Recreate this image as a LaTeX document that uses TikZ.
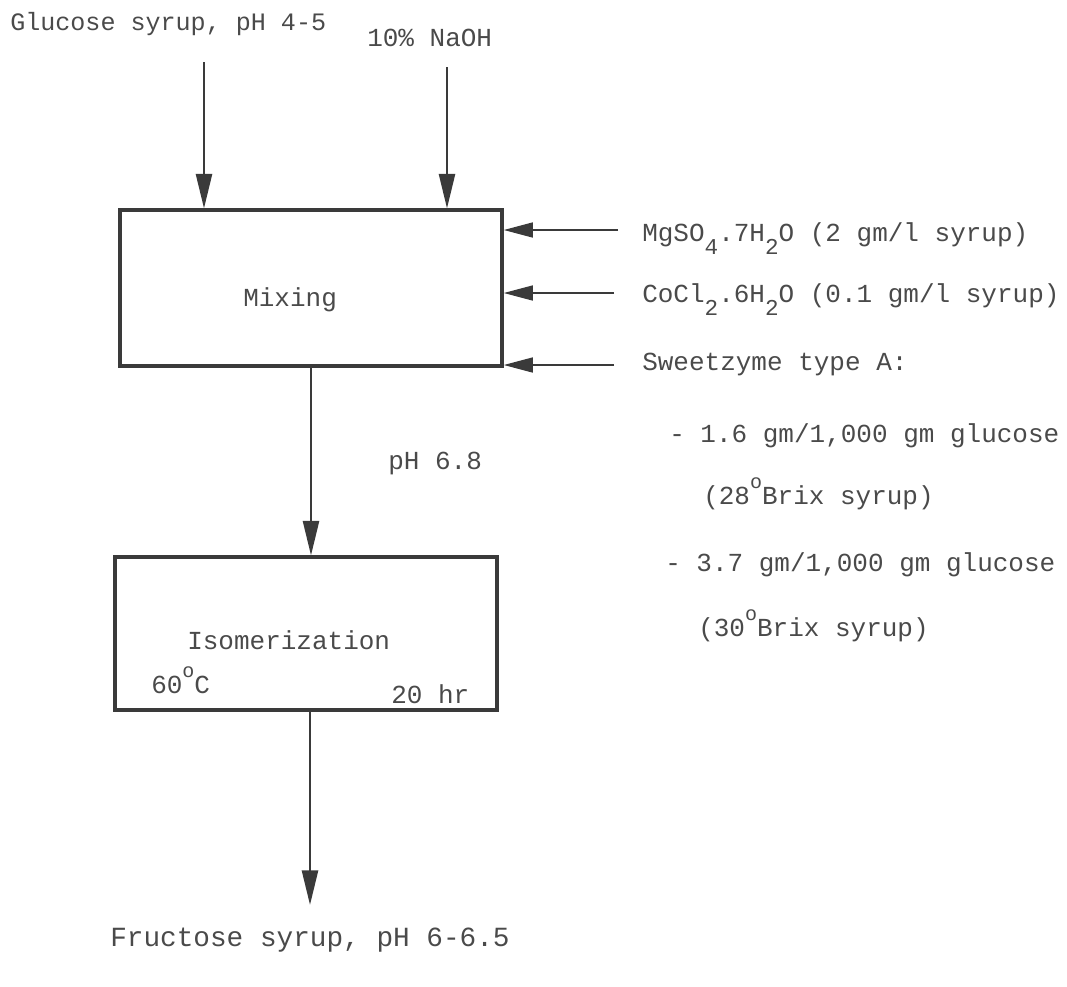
\documentclass[tikz,border=0pt]{standalone}
\usepackage{fontspec}
\setmainfont{Liberation Mono}
\usetikzlibrary{arrows.meta}
\definecolor{ink}{HTML}{3A3A3A}
\definecolor{txt}{HTML}{4A4A4A}
\newcommand{\sbs}[1]{\raisebox{-0.5em}{\fontsize{17}{17}\selectfont #1}}
\newcommand{\dego}{\raisebox{0.62em}{\fontsize{15}{15}\selectfont o}}
\begin{document}
\begin{tikzpicture}[x=0.75pt,y=-0.75pt,
  lbl/.style={text=txt,font=\fontsize{19.5}{21}\selectfont,inner sep=0pt,anchor=west},
  boxnode/.style={draw=ink,line width=2.3pt,rectangle,inner sep=0pt,minimum width=286.5pt},
  arr/.style={draw=ink,line width=2pt,-{Triangle[length=26pt,width=12pt]}},
  sarr/.style={draw=ink,line width=2pt,-{Triangle[length=22pt,width=11pt]}}]
\useasboundingbox (0,0) rectangle (1067,986);
% boxes
\node[boxnode,minimum height=117pt] (mix) at (311,288) {};
\node[boxnode,minimum height=114.75pt] (iso) at (306,633.5) {};
% labels
\node[lbl,font=\fontsize{18.8}{21}\selectfont] (glab) at (10,24) {Glucose syrup, pH 4-5};
\node[lbl] (nlab) at (367,38) {10\% NaOH};
\node[lbl] (mixlbl) at (243,300) {Mixing};
\node[lbl] (mg) at (642,239) {MgSO\sbs{4}.7H\sbs{2}O (2 gm/l syrup)};
\node[lbl] (co) at (642,300) {CoCl\sbs{2}.6H\sbs{2}O (0.1 gm/l syrup)};
\node[lbl] (sw) at (642,364) {Sweetzyme type A:};
\node[lbl] (d1) at (669,436) {- 1.6 gm/1,000 gm glucose};
\node[lbl] (b1) at (703,494) {(28\dego Brix syrup)};
\node[lbl] (d2) at (665,565) {- 3.7 gm/1,000 gm glucose};
\node[lbl] (b2) at (698,626) {(30\dego Brix syrup)};
\node[lbl] (ph) at (388,463) {pH 6.8};
\node[lbl] (isolbl) at (187,640) {Isomerization};
\node[lbl] (temp) at (151,680) {60\dego C};
\node[lbl] (time) at (391,694) {20 hr};
\node[lbl,font=\fontsize{20.8}{23}\selectfont] (flab) at (110,940) {Fructose syrup, pH 6-6.5};
% arrows
\coordinate (g0) at (204,62);
\coordinate (n0) at (447,67);
\coordinate (m1) at (618,230);
\coordinate (m2) at (614,293);
\coordinate (m3) at (614,365);
\coordinate (out) at (310,905);
\draw[arr] (g0) -- (g0 |- mix.north);
\draw[arr] (n0) -- (n0 |- mix.north);
\draw[sarr] (m1) -- (m1 -| mix.east);
\draw[sarr] (m2) -- (m2 -| mix.east);
\draw[sarr] (m3) -- (m3 -| mix.east);
\draw[arr] (mix.south) -- (mix.south |- iso.north);
\draw[arr] (out |- iso.south) -- (out);
\end{tikzpicture}
\end{document}
